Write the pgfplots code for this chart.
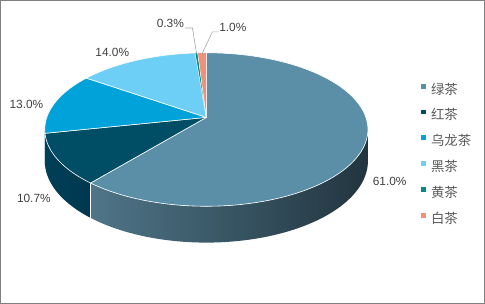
\documentclass[border=0pt]{standalone}
\usepackage{fontspec}
\setmainfont{Liberation Sans}
\newfontfamily\cjk{Noto Sans CJK SC}
\usepackage{pgfplots}
\usepackage{pgfplotstable}
\pgfplotsset{compat=1.18}

\definecolor{c0}{HTML}{5B8FA8}
\definecolor{c1}{HTML}{004D66}
\definecolor{c2}{HTML}{00A2DA}
\definecolor{c3}{HTML}{6DCFF6}
\definecolor{c4}{HTML}{008C84}
\definecolor{c5}{HTML}{F0907A}
\definecolor{sideAL}{HTML}{4F7588}
\definecolor{sideAR}{HTML}{22353F}
\definecolor{sideBL}{HTML}{004058}
\definecolor{sideBR}{HTML}{00374E}
\definecolor{labtext}{HTML}{404040}
\definecolor{legtext}{HTML}{595959}
\definecolor{leader}{HTML}{A6A6A6}
\definecolor{frame}{HTML}{808080}

% share of each kind of tea, in percent
\pgfplotstableread{
value
61.0
10.7
13.0
14.0
0.3
1.0
}\teadata

% cumulative angles, clockwise from 12 o'clock
\pgfplotstablegetelem{0}{value}\of\teadata \pgfmathsetmacro\aA{0}   \pgfmathsetmacro\bA{\aA+3.6*\pgfplotsretval}
\pgfplotstablegetelem{1}{value}\of\teadata \pgfmathsetmacro\aB{\bA} \pgfmathsetmacro\bB{\aB+3.6*\pgfplotsretval}
\pgfplotstablegetelem{2}{value}\of\teadata \pgfmathsetmacro\aC{\bB} \pgfmathsetmacro\bC{\aC+3.6*\pgfplotsretval}
\pgfplotstablegetelem{3}{value}\of\teadata \pgfmathsetmacro\aD{\bC} \pgfmathsetmacro\bD{\aD+3.6*\pgfplotsretval}
\pgfplotstablegetelem{4}{value}\of\teadata \pgfmathsetmacro\aE{\bD} \pgfmathsetmacro\bE{\aE+3.6*\pgfplotsretval}
\pgfplotstablegetelem{5}{value}\of\teadata \pgfmathsetmacro\aF{\bE} \pgfmathsetmacro\bF{\aF+3.6*\pgfplotsretval}
% visible front wall: between the two silhouette angles
\pgfmathsetmacro\vL{acos(-0.158)}
\pgfmathsetmacro\vR{360-\vL}
\pgfmathsetmacro\sA{max(\aA,\vL)} \pgfmathsetmacro\eA{min(\bA,\vR)}
\pgfmathsetmacro\sB{max(\aB,\vL)} \pgfmathsetmacro\eB{min(\bB,\vR)}
\pgfmathsetmacro\sC{max(\aC,\vL)} \pgfmathsetmacro\eC{min(\bC,\vR)}

\begin{document}
\begin{tikzpicture}
\begin{axis}[
  width=485bp, height=304bp, scale only axis,
  xmin=0, xmax=485, ymin=0, ymax=304, y dir=reverse,
  hide axis, clip=false,
  declare function={
    px(\a)=206.5+158*sin(\a)/(1+0.158*cos(\a));
    py(\a)=117-74.1*cos(\a)/(1+0.158*cos(\a));
    pd(\a)=30.3/(1+0.158*cos(\a));
    fr(\u)=max(0,min(\u,1,2.05-\u));
    dp(\u)=max(0,min(1,(\u-1)/0.05,(2.1-\u)/0.05));
  },
  legend image code/.code={\fill[#1] (0bp,2.1bp) rectangle (4.8bp,6.9bp);},
  legend style={at={(axis cs:418.9,83.7)}, anchor=north west,
    draw=none, fill=none, inner sep=0pt, outer sep=0pt,
    row sep=12bp,
    font=\cjk\fontsize{13.3}{14}\selectfont, text=legtext,
    nodes={inner sep=0pt, outer sep=0pt, text height=10bp, text depth=3.3bp},
    /tikz/every odd column/.append style={column sep=5.3bp}},
  legend cell align=left,
]
% front walls
\addplot[forget plot, draw=none, left color=sideBL, right color=sideBR, domain=0:2.1, samples=421]
  ({px(\sB+(\eB-\sB)*fr(x))},{py(\sB+(\eB-\sB)*fr(x))+dp(x)*pd(\sB+(\eB-\sB)*fr(x))}) -- cycle;
\addplot[forget plot, draw=none, fill=c2!70!black, domain=0:2.1, samples=421]
  ({px(\sC+(\eC-\sC)*fr(x))},{py(\sC+(\eC-\sC)*fr(x))+dp(x)*pd(\sC+(\eC-\sC)*fr(x))}) -- cycle;
\addplot[forget plot, draw=none, left color=sideAL, right color=sideAR, domain=0:2.1, samples=421]
  ({px(\sA+(\eA-\sA)*fr(x))},{py(\sA+(\eA-\sA)*fr(x))+dp(x)*pd(\sA+(\eA-\sA)*fr(x))}) -- cycle;
\addplot[forget plot, white, line width=0.7pt, domain=0:1, samples=2]
  ({px(\bA)},{py(\bA)+x*pd(\bA)});
% top faces
\addplot[forget plot, fill=c0, draw=white, line width=0.6pt, line join=round, domain=\aA:\bA, samples=200]
  ({px(x)},{py(x)}) -- (axis cs:206.5,117) -- cycle;
\addplot[forget plot, fill=c1, draw=white, line width=0.6pt, line join=round, domain=\aB:\bB, samples=60]
  ({px(x)},{py(x)}) -- (axis cs:206.5,117) -- cycle;
\addplot[forget plot, fill=c2, draw=white, line width=0.6pt, line join=round, domain=\aC:\bC, samples=60]
  ({px(x)},{py(x)}) -- (axis cs:206.5,117) -- cycle;
\addplot[forget plot, fill=c3, draw=white, line width=0.6pt, line join=round, domain=\aD:\bD, samples=60]
  ({px(x)},{py(x)}) -- (axis cs:206.5,117) -- cycle;
\addplot[forget plot, fill=c4, draw=white, line width=0.3pt, line join=round, domain=\aE:\bE, samples=5]
  ({px(x)},{py(x)}) -- (axis cs:206.5,117) -- cycle;
\addplot[forget plot, fill=c5, draw=white, line width=0.4pt, line join=round, domain=\aF:\bF, samples=8]
  ({px(x)},{py(x)}) -- (axis cs:206.5,117) -- cycle;
% legend
\addlegendimage{fill=c0, draw=none}\addlegendentry{绿茶}
\addlegendimage{fill=c1, draw=none}\addlegendentry{红茶}
\addlegendimage{fill=c2, draw=none}\addlegendentry{乌龙茶}
\addlegendimage{fill=c3, draw=none}\addlegendentry{黑茶}
\addlegendimage{fill=c4, draw=none}\addlegendentry{黄茶}
\addlegendimage{fill=c5, draw=none}\addlegendentry{白茶}
% leader lines
\draw[leader, line width=0.6pt] (axis cs:185.5,28.5) -- (axis cs:192.7,28.5) -- (axis cs:196.8,53.5);
\draw[leader, line width=0.6pt] (axis cs:218.3,32.3) -- (axis cs:212.5,32.3) -- (axis cs:202.3,53.8);
% data labels
\begin{scope}[every node/.style={font=\fontsize{11.8}{13}\selectfont, text=labtext, inner sep=0pt}]
\node at (axis cs:388,180.5) {61.0\%};
\node at (axis cs:35.7,197.7) {10.7\%};
\node at (axis cs:28.3,103.7) {13.0\%};
\node at (axis cs:113.3,52.3) {14.0\%};
\node at (axis cs:170.8,24) {0.3\%};
\node at (axis cs:232.7,27.5) {1.0\%};
\end{scope}
% frame
\draw[frame, line width=0.9pt] (axis cs:2.6,1.2) rectangle (axis cs:482,301);
\end{axis}
\end{tikzpicture}
\end{document}
